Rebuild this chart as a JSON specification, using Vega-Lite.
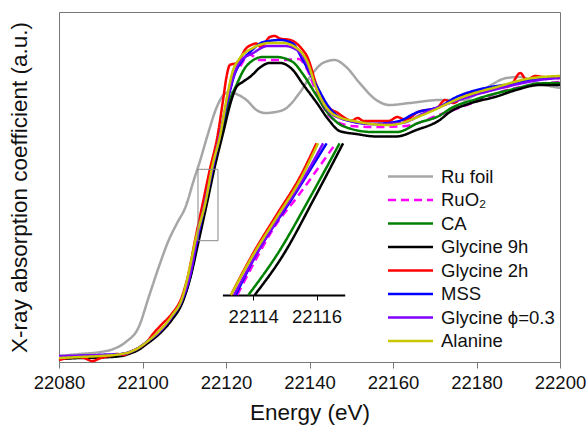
{
  "$schema": "https://vega.github.io/schema/vega-lite/v6.json",
  "width": 501,
  "height": 350,
  "autosize": {"type": "none"},
  "padding": {"left": 59, "top": 12, "right": 28, "bottom": 73},
  "config": {
    "font": "Liberation Sans",
    "view": {"stroke": "#777777", "strokeWidth": 1},
    "axis": {"grid": false, "labelFont": "Liberation Sans", "titleFont": "Liberation Sans", "labelColor": "#111111", "titleColor": "#111111", "titleFontWeight": "normal"},
    "legend": {"orient": "none", "legendX": 339, "legendY": 152, "labelFontSize": 18.5, "labelFont": "Liberation Sans", "labelColor": "#111111", "symbolType": "M-2,0L2,0", "symbolSize": 506, "symbolStrokeWidth": 2.5, "rowPadding": 1.5, "labelOffset": 18, "padding": 0, "labelLimit": 300}
  },
  "datasets": {
    "main": [
      {"s":"Ru foil","E":22080,"v":0.03},{"s":"Ru foil","E":22085,"v":0.04},{"s":"Ru foil","E":22090,"v":0.05},{"s":"Ru foil","E":22093,"v":0.065},{"s":"Ru foil","E":22096,"v":0.1},{"s":"Ru foil","E":22099.1,"v":0.175},{"s":"Ru foil","E":22101.5,"v":0.325},{"s":"Ru foil","E":22103.9,"v":0.475},{"s":"Ru foil","E":22106.3,"v":0.61},{"s":"Ru foil","E":22108.3,"v":0.695},{"s":"Ru foil","E":22110.3,"v":0.775},{"s":"Ru foil","E":22112.3,"v":0.91},{"s":"Ru foil","E":22113.7,"v":1.0},{"s":"Ru foil","E":22115.6,"v":1.135},{"s":"Ru foil","E":22117.7,"v":1.27},{"s":"Ru foil","E":22119.4,"v":1.335},{"s":"Ru foil","E":22120.9,"v":1.35},{"s":"Ru foil","E":22122.5,"v":1.34},{"s":"Ru foil","E":22124.9,"v":1.31},{"s":"Ru foil","E":22127.3,"v":1.26},{"s":"Ru foil","E":22129.5,"v":1.245},{"s":"Ru foil","E":22131.9,"v":1.25},{"s":"Ru foil","E":22134.5,"v":1.27},{"s":"Ru foil","E":22137.6,"v":1.345},{"s":"Ru foil","E":22140.8,"v":1.445},{"s":"Ru foil","E":22143.2,"v":1.495},{"s":"Ru foil","E":22146,"v":1.51},{"s":"Ru foil","E":22148.8,"v":1.475},{"s":"Ru foil","E":22152,"v":1.395},{"s":"Ru foil","E":22156,"v":1.31},{"s":"Ru foil","E":22159.2,"v":1.285},{"s":"Ru foil","E":22164,"v":1.295},{"s":"Ru foil","E":22171.2,"v":1.31},{"s":"Ru foil","E":22176.7,"v":1.31},{"s":"Ru foil","E":22181.5,"v":1.36},{"s":"Ru foil","E":22187.2,"v":1.42},{"s":"Ru foil","E":22190.4,"v":1.425},{"s":"Ru foil","E":22194.5,"v":1.395},{"s":"Ru foil","E":22200,"v":1.37},

      {"s":"RuO₂","E":22080,"v":0.02},{"s":"RuO₂","E":22090,"v":0.025},{"s":"RuO₂","E":22095,"v":0.035},{"s":"RuO₂","E":22097,"v":0.045},{"s":"RuO₂","E":22099,"v":0.065},{"s":"RuO₂","E":22101,"v":0.095},{"s":"RuO₂","E":22104,"v":0.145},{"s":"RuO₂","E":22107,"v":0.215},{"s":"RuO₂","E":22109.5,"v":0.3},{"s":"RuO₂","E":22111.5,"v":0.43},{"s":"RuO₂","E":22113.2,"v":0.61},{"s":"RuO₂","E":22115.2,"v":0.8},{"s":"RuO₂","E":22117,"v":0.975},{"s":"RuO₂","E":22118.8,"v":1.145},{"s":"RuO₂","E":22120.6,"v":1.31},{"s":"RuO₂","E":22122,"v":1.445},{"s":"RuO₂","E":22123.3,"v":1.475},{"s":"RuO₂","E":22125.5,"v":1.54},{"s":"RuO₂","E":22128,"v":1.51},{"s":"RuO₂","E":22131,"v":1.51},{"s":"RuO₂","E":22134,"v":1.51},{"s":"RuO₂","E":22137.4,"v":1.515},{"s":"RuO₂","E":22139.5,"v":1.46},{"s":"RuO₂","E":22141.6,"v":1.35},{"s":"RuO₂","E":22145,"v":1.225},{"s":"RuO₂","E":22150,"v":1.18},{"s":"RuO₂","E":22156,"v":1.175},{"s":"RuO₂","E":22163,"v":1.18},{"s":"RuO₂","E":22171,"v":1.235},{"s":"RuO₂","E":22179,"v":1.295},{"s":"RuO₂","E":22185,"v":1.345},{"s":"RuO₂","E":22193,"v":1.385},{"s":"RuO₂","E":22200,"v":1.4},

      {"s":"CA","E":22080,"v":0.02},{"s":"CA","E":22090,"v":0.025},{"s":"CA","E":22095,"v":0.035},{"s":"CA","E":22097,"v":0.045},{"s":"CA","E":22099,"v":0.065},{"s":"CA","E":22101,"v":0.095},{"s":"CA","E":22104,"v":0.145},{"s":"CA","E":22107,"v":0.215},{"s":"CA","E":22109.5,"v":0.3},{"s":"CA","E":22111.5,"v":0.43},{"s":"CA","E":22113.3,"v":0.61},{"s":"CA","E":22115.3,"v":0.8},{"s":"CA","E":22117,"v":0.975},{"s":"CA","E":22119,"v":1.145},{"s":"CA","E":22120.8,"v":1.3},{"s":"CA","E":22122.5,"v":1.385},{"s":"CA","E":22124.9,"v":1.48},{"s":"CA","E":22128.8,"v":1.525},{"s":"CA","E":22132.1,"v":1.525},{"s":"CA","E":22136,"v":1.5},{"s":"CA","E":22138.4,"v":1.44},{"s":"CA","E":22141.6,"v":1.335},{"s":"CA","E":22144.8,"v":1.235},{"s":"CA","E":22148,"v":1.18},{"s":"CA","E":22155,"v":1.15},{"s":"CA","E":22161,"v":1.15},{"s":"CA","E":22166,"v":1.195},{"s":"CA","E":22171,"v":1.23},{"s":"CA","E":22174,"v":1.27},{"s":"CA","E":22180,"v":1.315},{"s":"CA","E":22189.5,"v":1.3675},{"s":"CA","E":22195,"v":1.3925},{"s":"CA","E":22200,"v":1.395},

      {"s":"Glycine 9h","E":22080,"v":0.015},{"s":"Glycine 9h","E":22085,"v":0.02},{"s":"Glycine 9h","E":22090,"v":0.0225},{"s":"Glycine 9h","E":22095,"v":0.03},{"s":"Glycine 9h","E":22097,"v":0.0425},{"s":"Glycine 9h","E":22099,"v":0.06},{"s":"Glycine 9h","E":22101,"v":0.09},{"s":"Glycine 9h","E":22104,"v":0.14},{"s":"Glycine 9h","E":22107,"v":0.21},{"s":"Glycine 9h","E":22109.5,"v":0.295},{"s":"Glycine 9h","E":22111.5,"v":0.425},{"s":"Glycine 9h","E":22113.5,"v":0.61},{"s":"Glycine 9h","E":22115.5,"v":0.8},{"s":"Glycine 9h","E":22117.3,"v":0.975},{"s":"Glycine 9h","E":22119.3,"v":1.145},{"s":"Glycine 9h","E":22121.3,"v":1.31},{"s":"Glycine 9h","E":22122.5,"v":1.375},{"s":"Glycine 9h","E":22124,"v":1.4},{"s":"Glycine 9h","E":22126,"v":1.43},{"s":"Glycine 9h","E":22128,"v":1.47},{"s":"Glycine 9h","E":22130.5,"v":1.495},{"s":"Glycine 9h","E":22133,"v":1.495},{"s":"Glycine 9h","E":22136,"v":1.46},{"s":"Glycine 9h","E":22138.4,"v":1.39},{"s":"Glycine 9h","E":22141.6,"v":1.3},{"s":"Glycine 9h","E":22144.8,"v":1.205},{"s":"Glycine 9h","E":22147.2,"v":1.155},{"s":"Glycine 9h","E":22151.2,"v":1.14},{"s":"Glycine 9h","E":22156,"v":1.1275},{"s":"Glycine 9h","E":22160.8,"v":1.1275},{"s":"Glycine 9h","E":22165.6,"v":1.16},{"s":"Glycine 9h","E":22171.2,"v":1.21},{"s":"Glycine 9h","E":22173.6,"v":1.25},{"s":"Glycine 9h","E":22178.4,"v":1.2925},{"s":"Glycine 9h","E":22184.8,"v":1.3275},{"s":"Glycine 9h","E":22189.5,"v":1.36},{"s":"Glycine 9h","E":22195.1,"v":1.385},{"s":"Glycine 9h","E":22200,"v":1.385},

      {"s":"Glycine 2h","E":22080,"v":0.01},{"s":"Glycine 2h","E":22082,"v":0.02},{"s":"Glycine 2h","E":22084,"v":0.025},{"s":"Glycine 2h","E":22086,"v":0.02},{"s":"Glycine 2h","E":22088,"v":0.005},{"s":"Glycine 2h","E":22090,"v":0.02},{"s":"Glycine 2h","E":22092,"v":0.03},{"s":"Glycine 2h","E":22094,"v":0.04},{"s":"Glycine 2h","E":22095.5,"v":0.035},{"s":"Glycine 2h","E":22097,"v":0.05},{"s":"Glycine 2h","E":22099,"v":0.07},{"s":"Glycine 2h","E":22101,"v":0.1},{"s":"Glycine 2h","E":22102.5,"v":0.14},{"s":"Glycine 2h","E":22104.7,"v":0.19},{"s":"Glycine 2h","E":22107,"v":0.24},{"s":"Glycine 2h","E":22109.5,"v":0.33},{"s":"Glycine 2h","E":22111,"v":0.44},{"s":"Glycine 2h","E":22112.6,"v":0.61},{"s":"Glycine 2h","E":22114.5,"v":0.8},{"s":"Glycine 2h","E":22116,"v":0.95},{"s":"Glycine 2h","E":22118.1,"v":1.145},{"s":"Glycine 2h","E":22119.3,"v":1.31},{"s":"Glycine 2h","E":22120.2,"v":1.435},{"s":"Glycine 2h","E":22120.9,"v":1.485},{"s":"Glycine 2h","E":22122.5,"v":1.495},{"s":"Glycine 2h","E":22123.5,"v":1.52},{"s":"Glycine 2h","E":22124.5,"v":1.56},{"s":"Glycine 2h","E":22126,"v":1.585},{"s":"Glycine 2h","E":22127.3,"v":1.5925},{"s":"Glycine 2h","E":22128.3,"v":1.575},{"s":"Glycine 2h","E":22130.5,"v":1.625},{"s":"Glycine 2h","E":22131.7,"v":1.63},{"s":"Glycine 2h","E":22132.9,"v":1.6175},{"s":"Glycine 2h","E":22135.4,"v":1.61},{"s":"Glycine 2h","E":22138,"v":1.57},{"s":"Glycine 2h","E":22139.6,"v":1.52},{"s":"Glycine 2h","E":22141.6,"v":1.39},{"s":"Glycine 2h","E":22144.8,"v":1.27},{"s":"Glycine 2h","E":22146.8,"v":1.245},{"s":"Glycine 2h","E":22148.5,"v":1.22},{"s":"Glycine 2h","E":22150,"v":1.205},{"s":"Glycine 2h","E":22151.5,"v":1.22},{"s":"Glycine 2h","E":22153,"v":1.205},{"s":"Glycine 2h","E":22159,"v":1.205},{"s":"Glycine 2h","E":22161,"v":1.225},{"s":"Glycine 2h","E":22163,"v":1.21},{"s":"Glycine 2h","E":22166,"v":1.25},{"s":"Glycine 2h","E":22170.5,"v":1.27},{"s":"Glycine 2h","E":22172.5,"v":1.31},{"s":"Glycine 2h","E":22174.5,"v":1.295},{"s":"Glycine 2h","E":22177.6,"v":1.343},{"s":"Glycine 2h","E":22180,"v":1.345},{"s":"Glycine 2h","E":22182,"v":1.35},{"s":"Glycine 2h","E":22185,"v":1.37},{"s":"Glycine 2h","E":22188,"v":1.38},{"s":"Glycine 2h","E":22190.5,"v":1.445},{"s":"Glycine 2h","E":22192,"v":1.41},{"s":"Glycine 2h","E":22194,"v":1.43},{"s":"Glycine 2h","E":22196,"v":1.425},{"s":"Glycine 2h","E":22200,"v":1.42},

      {"s":"MSS","E":22080,"v":0.025},{"s":"MSS","E":22085,"v":0.03},{"s":"MSS","E":22090,"v":0.035},{"s":"MSS","E":22095,"v":0.04},{"s":"MSS","E":22097,"v":0.05},{"s":"MSS","E":22099,"v":0.07},{"s":"MSS","E":22101,"v":0.1},{"s":"MSS","E":22104,"v":0.15},{"s":"MSS","E":22107,"v":0.225},{"s":"MSS","E":22109.5,"v":0.31},{"s":"MSS","E":22111.5,"v":0.44},{"s":"MSS","E":22113.1,"v":0.61},{"s":"MSS","E":22115.1,"v":0.8},{"s":"MSS","E":22116.9,"v":0.975},{"s":"MSS","E":22118.7,"v":1.145},{"s":"MSS","E":22120.4,"v":1.31},{"s":"MSS","E":22122,"v":1.435},{"s":"MSS","E":22124,"v":1.51},{"s":"MSS","E":22126,"v":1.555},{"s":"MSS","E":22129,"v":1.6},{"s":"MSS","E":22133,"v":1.61},{"s":"MSS","E":22136,"v":1.5925},{"s":"MSS","E":22138.4,"v":1.51},{"s":"MSS","E":22141.6,"v":1.385},{"s":"MSS","E":22144.8,"v":1.27},{"s":"MSS","E":22148,"v":1.215},{"s":"MSS","E":22155,"v":1.19},{"s":"MSS","E":22161,"v":1.2025},{"s":"MSS","E":22166,"v":1.25},{"s":"MSS","E":22171,"v":1.275},{"s":"MSS","E":22175.2,"v":1.325},{"s":"MSS","E":22181.6,"v":1.3675},{"s":"MSS","E":22189,"v":1.3925},{"s":"MSS","E":22195,"v":1.4175},{"s":"MSS","E":22200,"v":1.425},

      {"s":"Glycine ϕ=0.3","E":22080,"v":0.03},{"s":"Glycine ϕ=0.3","E":22090,"v":0.035},{"s":"Glycine ϕ=0.3","E":22095,"v":0.04},{"s":"Glycine ϕ=0.3","E":22097,"v":0.05},{"s":"Glycine ϕ=0.3","E":22099,"v":0.07},{"s":"Glycine ϕ=0.3","E":22101,"v":0.1},{"s":"Glycine ϕ=0.3","E":22104,"v":0.15},{"s":"Glycine ϕ=0.3","E":22107,"v":0.225},{"s":"Glycine ϕ=0.3","E":22109.5,"v":0.315},{"s":"Glycine ϕ=0.3","E":22111.5,"v":0.445},{"s":"Glycine ϕ=0.3","E":22113,"v":0.61},{"s":"Glycine ϕ=0.3","E":22115,"v":0.8},{"s":"Glycine ϕ=0.3","E":22116.8,"v":0.975},{"s":"Glycine ϕ=0.3","E":22118.6,"v":1.145},{"s":"Glycine ϕ=0.3","E":22120.3,"v":1.31},{"s":"Glycine ϕ=0.3","E":22121.8,"v":1.43},{"s":"Glycine ϕ=0.3","E":22123.3,"v":1.5},{"s":"Glycine ϕ=0.3","E":22126.5,"v":1.545},{"s":"Glycine ϕ=0.3","E":22130,"v":1.58},{"s":"Glycine ϕ=0.3","E":22134,"v":1.58},{"s":"Glycine ϕ=0.3","E":22137,"v":1.56},{"s":"Glycine ϕ=0.3","E":22139.6,"v":1.48},{"s":"Glycine ϕ=0.3","E":22141.6,"v":1.37},{"s":"Glycine ϕ=0.3","E":22145,"v":1.245},{"s":"Glycine ϕ=0.3","E":22150,"v":1.205},{"s":"Glycine ϕ=0.3","E":22156,"v":1.19},{"s":"Glycine ϕ=0.3","E":22162,"v":1.195},{"s":"Glycine ϕ=0.3","E":22168,"v":1.25},{"s":"Glycine ϕ=0.3","E":22175,"v":1.305},{"s":"Glycine ϕ=0.3","E":22183,"v":1.355},{"s":"Glycine ϕ=0.3","E":22190,"v":1.39},{"s":"Glycine ϕ=0.3","E":22195,"v":1.41},{"s":"Glycine ϕ=0.3","E":22200,"v":1.42},

      {"s":"Alanine","E":22080,"v":0.02},{"s":"Alanine","E":22085,"v":0.025},{"s":"Alanine","E":22090,"v":0.03},{"s":"Alanine","E":22095,"v":0.04},{"s":"Alanine","E":22097,"v":0.05},{"s":"Alanine","E":22099,"v":0.07},{"s":"Alanine","E":22101,"v":0.1},{"s":"Alanine","E":22104,"v":0.155},{"s":"Alanine","E":22107,"v":0.23},{"s":"Alanine","E":22109.5,"v":0.32},{"s":"Alanine","E":22111,"v":0.44},{"s":"Alanine","E":22112.7,"v":0.61},{"s":"Alanine","E":22115.2,"v":0.81},{"s":"Alanine","E":22116.7,"v":0.976},{"s":"Alanine","E":22118.7,"v":1.143},{"s":"Alanine","E":22120.1,"v":1.31},{"s":"Alanine","E":22121.7,"v":1.46},{"s":"Alanine","E":22123,"v":1.51},{"s":"Alanine","E":22126.4,"v":1.57},{"s":"Alanine","E":22130.5,"v":1.595},{"s":"Alanine","E":22133.6,"v":1.595},{"s":"Alanine","E":22136.9,"v":1.57},{"s":"Alanine","E":22139.5,"v":1.5},{"s":"Alanine","E":22141.6,"v":1.37},{"s":"Alanine","E":22145.6,"v":1.24},{"s":"Alanine","E":22151.2,"v":1.2025},{"s":"Alanine","E":22159.2,"v":1.185},{"s":"Alanine","E":22167.1,"v":1.235},{"s":"Alanine","E":22168.8,"v":1.25},{"s":"Alanine","E":22176.7,"v":1.325},{"s":"Alanine","E":22184.8,"v":1.375},{"s":"Alanine","E":22192.7,"v":1.4175},{"s":"Alanine","E":22200,"v":1.43}
    ],
    "box": [{"E": 22113.29, "E2": 22118.08, "v": 0.6065, "v2": 0.9635}],
    "inset": [
      {"s":"RuO₂","E":22113.5,"v":0.61},{"s":"RuO₂","E":22114.05,"v":0.687},{"s":"RuO₂","E":22114.68,"v":0.768},{"s":"RuO₂","E":22115.4,"v":0.837},{"s":"RuO₂","E":22116.61,"v":0.96},
      {"s":"CA","E":22113.85,"v":0.61},{"s":"CA","E":22114.78,"v":0.706},{"s":"CA","E":22115.81,"v":0.837},{"s":"CA","E":22116.73,"v":0.96},
      {"s":"Glycine 9h","E":22114.05,"v":0.61},{"s":"Glycine 9h","E":22114.98,"v":0.706},{"s":"Glycine 9h","E":22115.9,"v":0.829},{"s":"Glycine 9h","E":22116.84,"v":0.96},
      {"s":"Glycine 2h","E":22113.3,"v":0.61},{"s":"Glycine 2h","E":22114.03,"v":0.71},{"s":"Glycine 2h","E":22114.74,"v":0.795},{"s":"Glycine 2h","E":22115.46,"v":0.88},{"s":"Glycine 2h","E":22116.0,"v":0.96},
      {"s":"MSS","E":22113.45,"v":0.61},{"s":"MSS","E":22114.12,"v":0.706},{"s":"MSS","E":22115.27,"v":0.837},{"s":"MSS","E":22116.32,"v":0.96},
      {"s":"Glycine ϕ=0.3","E":22113.4,"v":0.61},{"s":"Glycine ϕ=0.3","E":22114.03,"v":0.695},{"s":"Glycine ϕ=0.3","E":22114.82,"v":0.79},{"s":"Glycine ϕ=0.3","E":22115.56,"v":0.875},{"s":"Glycine ϕ=0.3","E":22116.21,"v":0.96},
      {"s":"Alanine","E":22113.3,"v":0.61},{"s":"Alanine","E":22114.03,"v":0.706},{"s":"Alanine","E":22114.76,"v":0.791},{"s":"Alanine","E":22115.48,"v":0.875},{"s":"Alanine","E":22116.05,"v":0.96}
    ]
  },
  "layer": [
    {
      "layer": [
        {
          "data": {"name": "main"},
          "mark": {"type": "line", "strokeWidth": 2.5, "interpolate": "monotone"},
          "encoding": {
            "x": {"field": "E", "type": "quantitative", "scale": {"domain": [22080, 22200], "nice": false},
                  "axis": {"title": "Energy (eV)", "values": [22080, 22100, 22120, 22140, 22160, 22180, 22200], "format": "d", "labelFontSize": 18.5, "titleFontSize": 22.5, "tickSize": 6, "tickColor": "#777777", "domainColor": "#777777", "labelPadding": 5, "titlePadding": 10, "labelFlush": false}},
            "y": {"field": "v", "type": "quantitative", "scale": {"domain": [0, 1.75], "nice": false},
                  "axis": {"title": "X-ray absorption coefficient (a.u.)", "labels": false, "ticks": false, "domain": false, "titleFontSize": 22.5, "titlePadding": 28}},
            "color": {"field": "s", "type": "nominal", "legend": {"title": null},
                      "scale": {"domain": ["Ru foil", "RuO₂", "CA", "Glycine 9h", "Glycine 2h", "MSS", "Glycine ϕ=0.3", "Alanine"],
                                "range": ["#a6a6a6", "#ff00ff", "#008000", "#000000", "#ff0000", "#0000ff", "#7f00ff", "#c8c800"]}},
            "strokeDash": {"field": "s", "type": "nominal", "legend": {"title": null},
                      "scale": {"domain": ["Ru foil", "RuO₂", "CA", "Glycine 9h", "Glycine 2h", "MSS", "Glycine ϕ=0.3", "Alanine"],
                                "range": [[1, 0], [8, 5], [1, 0], [1, 0], [1, 0], [1, 0], [1, 0], [1, 0]]}}
          }
        },
        {
          "data": {"name": "box"},
          "mark": {"type": "rect", "fillOpacity": 0, "stroke": "#888888", "strokeWidth": 1},
          "encoding": {
            "x": {"field": "E", "type": "quantitative", "title": "Energy (eV)"},
            "x2": {"field": "E2"},
            "y": {"field": "v", "type": "quantitative", "title": "X-ray absorption coefficient (a.u.)"},
            "y2": {"field": "v2"}
          }
        }
      ]
    },
    {
      "data": {"name": "inset"},
      "mark": {"type": "line", "strokeWidth": 2.5, "interpolate": "monotone"},
      "encoding": {
        "x": {"field": "E", "type": "quantitative", "scale": {"domain": [22113.03, 22116.89], "range": [163.4, 285.7], "nice": false, "zero": false},
              "axis": {"orient": "bottom", "offset": -67, "title": null, "values": [22114, 22116], "format": "d", "labelFontSize": 18.5, "tickSize": 5, "tickColor": "#000000", "domainColor": "#000000", "domainWidth": 2, "labelPadding": 7, "labelFlush": false}},
        "y": {"field": "v", "type": "quantitative", "scale": {"domain": [0.61, 0.96], "range": [283, 131.3], "nice": false, "zero": false}, "axis": null},
        "color": {"field": "s", "type": "nominal", "legend": {"title": null}},
        "strokeDash": {"field": "s", "type": "nominal", "legend": {"title": null}}
      }
    }
  ],
  "resolve": {"scale": {"x": "independent", "y": "independent"}}
}
